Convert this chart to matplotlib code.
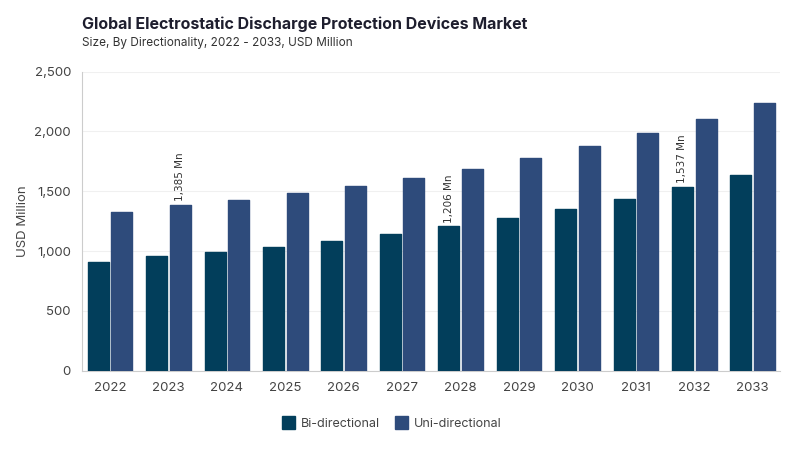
import matplotlib
matplotlib.use("Agg")
import matplotlib.pyplot as plt
from matplotlib.patches import FancyBboxPatch
from matplotlib.ticker import FuncFormatter, MultipleLocator
import numpy as np

years = ["2022", "2023", "2024", "2025", "2026", "2027",
         "2028", "2029", "2030", "2031", "2032", "2033"]
bi_directional = [913, 955, 990, 1032, 1086, 1139, 1206, 1273, 1354, 1438, 1537, 1639]
uni_directional = [1329, 1385, 1426, 1482, 1545, 1613, 1690, 1778, 1876, 1987, 2104, 2238]

# (series, year index, text)
callouts = [("uni", 1, "1,385 Mn"), ("bi", 6, "1,206 Mn"), ("bi", 10, "1,537 Mn")]

BI_COLOR = "#023e5b"
UNI_COLOR = "#2e4b7b"
TEXT = "#444444"

plt.rcParams["font.family"] = ["Inter", "DejaVu Sans"]

fig = plt.figure(figsize=(8, 4.5), dpi=100)
ax = fig.add_axes([0.1025, 0.176, 0.872, 0.665])

x = np.arange(len(years))
width = 0.36
gap = 0.022
bars_bi = ax.bar(x - width / 2 - gap, bi_directional, width, color=BI_COLOR, zorder=3)
bars_uni = ax.bar(x + width / 2 + gap, uni_directional, width, color=UNI_COLOR, zorder=3)

# rounded-ish corners via edge stroke
for b in list(bars_bi) + list(bars_uni):
    b.set_edgecolor(b.get_facecolor())
    b.set_linewidth(1.0)
    b.set_joinstyle("round")

for series, i, label in callouts:
    if series == "uni":
        xpos, val = x[i] + width / 2 + gap, uni_directional[i]
    else:
        xpos, val = x[i] - width / 2 - gap, bi_directional[i]
    ax.text(xpos, val + 30, label, rotation=90, ha="center", va="bottom",
            fontsize=7.5, color="#333333", family="DejaVu Sans")

ax.set_xlim(-0.48, 11.46)
ax.set_ylim(0, 2500)
ax.yaxis.set_major_locator(MultipleLocator(500))
ax.yaxis.set_major_formatter(FuncFormatter(lambda v, p: f"{int(v):,}"))
ax.set_xticks(x)
ax.set_xticklabels(years)
ax.tick_params(axis="both", length=0, labelsize=9.5, colors=TEXT)
ax.tick_params(axis="x", pad=8)
ax.tick_params(axis="y", pad=8)
ax.grid(axis="y", color="#f0f0f0", linewidth=0.8, zorder=0)
for side in ["top", "right"]:
    ax.spines[side].set_visible(False)
ax.spines["left"].set_color("#cccccc")
ax.spines["bottom"].set_color("#cccccc")
ax.set_ylabel("USD Million", fontsize=9.5, color=TEXT, labelpad=4)

fig.text(0.1025, 0.945, "Global Electrostatic Discharge Protection Devices Market",
         fontsize=11.5, fontweight="bold", color="#1e1e2e", va="center")
fig.text(0.1025, 0.905, "Size, By Directionality, 2022 - 2033, USD Million",
         fontsize=8.5, color="#333333", va="center")

handles = [
    FancyBboxPatch((0, 0), 1, 1, boxstyle="round,pad=0.1", color=BI_COLOR),
    FancyBboxPatch((0, 0), 1, 1, boxstyle="round,pad=0.1", color=UNI_COLOR),
]
fig.legend(handles, ["Bi-directional", "Uni-directional"], loc="center",
           bbox_to_anchor=(0.49, 0.06), ncol=2, frameon=False, fontsize=9,
           handlelength=1.0, handleheight=1.2, handletextpad=0.5, columnspacing=1.2,
           labelcolor=TEXT)

fig.savefig("out.png", dpi=100)
